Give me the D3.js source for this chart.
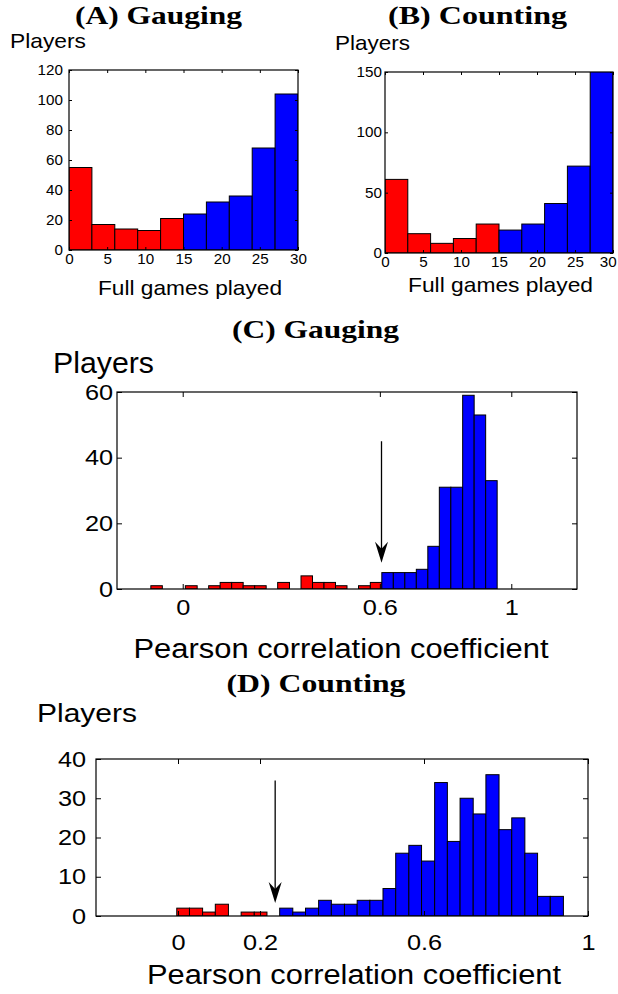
<!DOCTYPE html>
<html>
<head>
<meta charset="utf-8">
<script src="https://cdn.jsdelivr.net/npm/d3@7"></script>
<style>
  html, body { margin: 0; padding: 0; background: #fff; }
  svg { display: block; }
</style>
</head>
<body>
<script>
// ---------------- DATA ----------------
// Panels A/B: histogram of full games played (bin edges, counts)
const gamesEdges = [0, 3, 6, 9, 12, 15, 18, 21, 24, 27, 30];
const gamesCountsA = [55, 17, 14, 13, 21, 24, 32, 36, 68, 104];
const gamesCountsB = [61, 16, 8, 12, 24, 19, 24, 41, 72, 160];
const gamesThreshold = 15;
const gamesTicksX = [0, 5, 10, 15, 20, 25, 30];
const ticksYA = [0, 20, 40, 60, 80, 100, 120];
const ticksYB = [0, 50, 100, 150];

// Panel C: Pearson correlation histogram (Gauging)
const pearsonEdgesC = [-0.097, -0.062, -0.027, 0.008, 0.044, 0.079, 0.114, 0.149, 0.184, 0.219,
  0.254, 0.289, 0.325, 0.360, 0.395, 0.430, 0.465, 0.500, 0.535, 0.571,
  0.606, 0.641, 0.676, 0.711, 0.746, 0.781, 0.816, 0.852, 0.887, 0.922, 0.957];
const pearsonCountsC = [1, 0, 0, 1, 0, 1, 2, 2, 1, 1,
  0, 2, 0, 4, 2, 2, 1, 0, 1, 2,
  5, 5, 5, 6, 13, 31, 31, 59, 53, 33];
const thresholdC = 0.6;
const ticksXC = [0, 0.6, 1];
const ticksYC = [0, 20, 40, 60];
const arrowC = [0.605, 45, 8];   // x, y of tail, y of tip

// Panel D: Pearson correlation histogram (Counting)
const pearsonEdgesD = [-0.003, 0.028, 0.060, 0.091, 0.123, 0.154, 0.186, 0.217, 0.248, 0.280,
  0.311, 0.343, 0.374, 0.406, 0.437, 0.468, 0.500, 0.531, 0.563, 0.594,
  0.626, 0.657, 0.688, 0.720, 0.751, 0.783, 0.814, 0.846, 0.877, 0.908, 0.940];
const pearsonCountsD = [2, 2, 1, 3, 0, 1, 1, 0, 2, 1,
  2, 4, 3, 3, 4, 4, 7, 16, 18, 14,
  34, 19, 30, 26, 36, 22, 25, 16, 5, 5];
const thresholdD = 0.24;
const ticksXD = [0, 0.2, 0.6, 1];
const ticksYD = [0, 10, 20, 30, 40];
const arrowD = [0.237, 34.5, 3.3];

const titleA = "(A) Gauging", titleB = "(B) Counting", titleC = "(C) Gauging", titleD = "(D) Counting";
const yLabel = "Players";
const xLabelGames = "Full games played";
const xLabelPearson = "Pearson correlation coefficient";

const RED = "#ff0000", BLUE = "#0000ff";
const SANS = "'Liberation Sans', Arial, Helvetica, sans-serif";
const SERIF = "'Liberation Serif', 'Times New Roman', serif";

// ---------------- DRAW ----------------
const svg = d3.select("body").append("svg").attr("width", 618).attr("height", 994);

let clipId = 0;
function panel(o) {
  const x = d3.scaleLinear().domain(o.xDomain).range([o.left, o.right]);
  const y = d3.scaleLinear().domain(o.yDomain).range([o.bottom, o.top]);
  const g = svg.append("g");
  const cid = "clip" + (clipId++);
  g.append("clipPath").attr("id", cid).append("rect")
    .attr("x", o.left).attr("y", o.top).attr("width", o.right - o.left).attr("height", o.bottom - o.top);

  const bins = o.counts.map((c, i) => ({ x0: o.edges[i], x1: o.edges[i + 1], c }));
  g.append("g").attr("clip-path", `url(#${cid})`)
    .selectAll("rect").data(bins.filter(d => d.c > 0)).join("rect")
    .attr("x", d => x(d.x0)).attr("width", d => x(d.x1) - x(d.x0))
    .attr("y", d => y(d.c)).attr("height", d => y(0) - y(d.c))
    .attr("fill", d => d.x0 >= o.threshold ? BLUE : RED)
    .attr("stroke", "#000").attr("stroke-width", 1);

  const fmt = o.xFmt || (d => d);
  const ax = [
    { a: d3.axisBottom(x).tickValues(o.xTicks).tickFormat(fmt), t: `translate(0,${o.bottom})`, lab: true, kind: "b" },
    { a: d3.axisTop(x).tickValues(o.xTicks).tickFormat(""), t: `translate(0,${o.top})`, lab: false },
    { a: d3.axisLeft(y).tickValues(o.yTicks), t: `translate(${o.left},0)`, lab: true, kind: "l" },
    { a: d3.axisRight(y).tickValues(o.yTicks).tickFormat(""), t: `translate(${o.right},0)`, lab: false }
  ];
  ax.forEach(s => {
    s.a.tickSizeInner(-o.tickLen).tickSizeOuter(0)
      .tickPadding(s.kind === "b" ? o.xPad : o.yPad);
    const ag = g.append("g").attr("transform", s.t).call(s.a);
    ag.select(".domain").remove();
    ag.selectAll("line").attr("stroke", "#000").attr("stroke-width", 1);
    ag.attr("font-family", SANS).attr("font-size", o.tickFont);
    if (s.lab) {
      ag.selectAll("text").attr("fill", "#000").attr("transform", `scale(${o.sx},1)`);
      if (s.kind === "l") ag.selectAll("text").attr("x", -o.yPad / o.sx);
      if (s.kind === "b" && o.lastDx) {
        ag.selectAll(".tick").filter((d, i, n) => i === n.length - 1).select("text").attr("dx", o.lastDx);
      }
    }
  });
  g.append("rect").attr("x", o.left).attr("y", o.top)
    .attr("width", o.right - o.left).attr("height", o.bottom - o.top)
    .attr("fill", "none").attr("stroke", "#000").attr("stroke-width", 1.2);

  if (o.arrow) {
    const ax0 = x(o.arrow[0]), yt = y(o.arrow[1]), yp = y(o.arrow[2]);
    g.append("line").attr("x1", ax0).attr("x2", ax0).attr("y1", yt).attr("y2", yp - 12)
      .attr("stroke", "#000").attr("stroke-width", 1.3);
    g.append("path")
      .attr("d", `M${ax0},${yp} L${ax0 - 6.5},${yp - 21} L${ax0},${yp - 14} L${ax0 + 6.5},${yp - 21} Z`)
      .attr("fill", "#000");
  }
  return { x, y };
}

function txt(s, x, y, size, len, family, weight, anchor) {
  svg.append("text").attr("x", x).attr("y", y).text(s)
    .attr("font-family", family).attr("font-size", size).attr("font-weight", weight || "normal")
    .attr("text-anchor", anchor || "start").attr("fill", "#000")
    .attr("textLength", len).attr("lengthAdjust", "spacingAndGlyphs");
}

// Panel A
panel({ left: 69, right: 298, top: 70, bottom: 250, xDomain: [0, 30], yDomain: [0, 120],
  edges: gamesEdges, counts: gamesCountsA, threshold: gamesThreshold,
  xTicks: gamesTicksX, yTicks: ticksYA, tickLen: 3, tickFont: 14.5, xPad: 4, yPad: 6, sx: 1.05 });
// Panel B
panel({ left: 385, right: 613, top: 72, bottom: 253, xDomain: [0, 30], yDomain: [0, 150],
  edges: gamesEdges, counts: gamesCountsB, threshold: gamesThreshold,
  xTicks: gamesTicksX, yTicks: ticksYB, tickLen: 3, tickFont: 14.5, xPad: 4, yPad: 3, sx: 1.05, lastDx: -5 });
// Panel C
panel({ left: 117, right: 577, top: 392, bottom: 589, xDomain: [-0.2, 1.2], yDomain: [0, 60],
  edges: pearsonEdgesC, counts: pearsonCountsC, threshold: thresholdC,
  xTicks: ticksXC, yTicks: ticksYC, xFmt: d => String(d), tickLen: 5, tickFont: 22, xPad: 10, yPad: 4, sx: 1.15,
  arrow: arrowC });
// Panel D
panel({ left: 96, right: 588, top: 759, bottom: 916, xDomain: [-0.2, 1], yDomain: [0, 40],
  edges: pearsonEdgesD, counts: pearsonCountsD, threshold: thresholdD,
  xTicks: ticksXD, yTicks: ticksYD, xFmt: d => String(d), tickLen: 5, tickFont: 22, xPad: 18, yPad: 10, sx: 1.15,
  arrow: arrowD });

// Titles
txt(titleA, 158.5, 24, 25, 167, SERIF, "bold", "middle");
txt(titleB, 477.5, 24, 25, 179, SERIF, "bold", "middle");
txt(titleC, 315.5, 338, 25, 167, SERIF, "bold", "middle");
txt(titleD, 316, 692, 25, 179, SERIF, "bold", "middle");

// Y labels
txt(yLabel, 10, 48, 21, 76, SANS);
txt(yLabel, 335, 50, 21, 75, SANS);
txt(yLabel, 53, 373, 30, 101, SANS);
txt(yLabel, 37, 722, 25, 100, SANS);

// X labels
txt(xLabelGames, 190, 295, 21, 184, SANS, "normal", "middle");
txt(xLabelGames, 500.5, 292, 21, 185, SANS, "normal", "middle");
txt(xLabelPearson, 341, 658, 27, 415, SANS, "normal", "middle");
txt(xLabelPearson, 354, 984, 27, 414, SANS, "normal", "middle");
</script>
</body>
</html>
